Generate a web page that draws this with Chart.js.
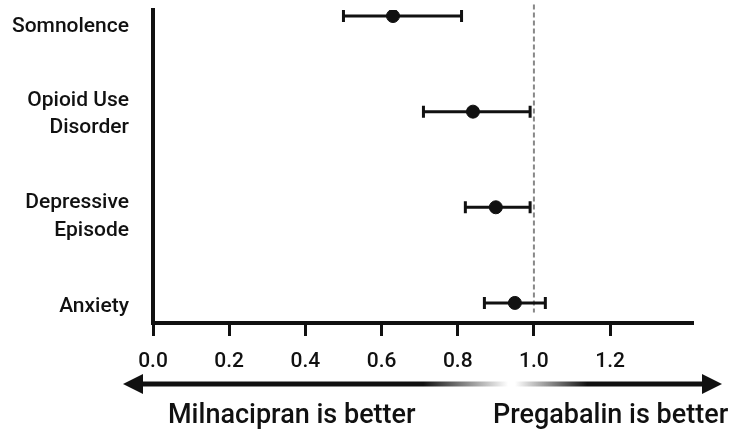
<!DOCTYPE html>
<html>
<head>
<meta charset="utf-8">
<script src="https://cdn.jsdelivr.net/npm/chart.js@4"></script>
<style>
  html, body { margin: 0; padding: 0; background: #fff; }
  #wrap { width: 750px; height: 443px; }
</style>
</head>
<body>
<div id="wrap"><canvas id="myChart" width="750" height="443"></canvas></div>
<script>
// outcomes, top to bottom
const categories = ['Somnolence', ['Opioid Use', 'Disorder'], ['Depressive', 'Episode'], 'Anxiety'];
const estimates = [0.63, 0.84, 0.90, 0.95];
const lowerCI = [0.50, 0.71, 0.82, 0.87];
const upperCI = [0.81, 0.99, 0.99, 1.03];
const xTicks = [0.0, 0.2, 0.4, 0.6, 0.8, 1.0, 1.2];
const refValue = 1.0;
const leftNote = 'Milnacipran is better';
const rightNote = 'Pregabalin is better';

const ink = '#111';
// the original nudges its row labels a little below the dots
const labelNudge = [0.11, 0.03, 0.1, 0.04];

/* whiskers + the dashed no-difference line, drawn under the dots */
const errorBars = {
    id: 'errorBars',
    beforeDatasetsDraw(chart) {
        const ctx = chart.ctx;
        const xs = chart.scales.x, ys = chart.scales.y;
        ctx.save();
        // reference line
        const rx = xs.getPixelForValue(refValue);
        ctx.strokeStyle = '#888';
        ctx.lineWidth = 2;
        ctx.setLineDash([5, 3]);
        ctx.beginPath();
        ctx.moveTo(rx, ys.getPixelForValue(-0.12));
        ctx.lineTo(rx, ys.getPixelForValue(3.1));
        ctx.stroke();
        ctx.setLineDash([]);
        // CI whiskers
        ctx.strokeStyle = ink;
        ctx.lineWidth = 3;
        estimates.forEach((v, i) => {
            const y = ys.getPixelForValue(i);
            const x1 = xs.getPixelForValue(lowerCI[i]);
            const x2 = xs.getPixelForValue(upperCI[i]);
            ctx.beginPath();
            ctx.moveTo(x1, y);
            ctx.lineTo(x2, y);
            ctx.moveTo(x1, y - 6);
            ctx.lineTo(x1, y + 6);
            ctx.moveTo(x2, y - 6);
            ctx.lineTo(x2, y + 6);
            ctx.stroke();
        });
        ctx.restore();
    }
};

/* the "which drug is better" arrows under the axis */
const directionArrows = {
    id: 'directionArrows',
    afterDraw(chart) {
        const ctx = chart.ctx;
        const y = 384;
        ctx.save();
        // left arrow, fading out toward the middle
        let g = ctx.createLinearGradient(123, 0, 508, 0);
        g.addColorStop(0, ink);
        g.addColorStop(0.78, ink);
        g.addColorStop(1, 'rgba(17,17,17,0)');
        ctx.fillStyle = g;
        ctx.fillRect(140, y - 2.5, 368, 5);
        ctx.fillStyle = ink;
        ctx.beginPath();
        ctx.moveTo(123, y);
        ctx.lineTo(143, y - 10);
        ctx.lineTo(143, y + 10);
        ctx.closePath();
        ctx.fill();
        // right arrow, fading in from the middle
        g = ctx.createLinearGradient(515, 0, 722, 0);
        g.addColorStop(0, 'rgba(17,17,17,0)');
        g.addColorStop(0.35, ink);
        g.addColorStop(1, ink);
        ctx.fillStyle = g;
        ctx.fillRect(515, y - 2.5, 190, 5);
        ctx.fillStyle = ink;
        ctx.beginPath();
        ctx.moveTo(722, y);
        ctx.lineTo(702, y - 10);
        ctx.lineTo(702, y + 10);
        ctx.closePath();
        ctx.fill();
        // captions
        ctx.font = '500 27px Roboto';
        ctx.textBaseline = 'alphabetic';
        ctx.textAlign = 'left';
        ctx.fillText(leftNote, 168, 423);
        ctx.fillText(rightNote, 493, 423);
        ctx.restore();
    }
};

const ctx = document.getElementById('myChart');
new Chart(ctx, {
    type: 'scatter',
    data: {
        datasets: [{
            label: 'Odds ratio',
            data: estimates.map((v, i) => ({ x: v, y: i })),
            backgroundColor: ink,
            borderColor: ink,
            pointRadius: 6.5,
            pointHoverRadius: 6.5
        }]
    },
    options: {
        responsive: false,
        animation: false,
        layout: { padding: { top: 10, right: 58, left: 0, bottom: 0 } },
        plugins: { legend: { display: false }, tooltip: { enabled: false } },
        scales: {
            x: {
                type: 'linear',
                min: 0,
                max: 1.415,
                afterBuildTicks: (s) => { s.ticks = xTicks.map(v => ({ value: v })); },
                afterFit: (s) => { s.height = 120; s.paddingLeft = 0; s.paddingRight = 0; },
                grid: { display: true, drawOnChartArea: false, drawTicks: true, tickLength: 13, lineWidth: 3, color: ink },
                border: { display: true, width: 4, color: ink },
                ticks: {
                    color: ink,
                    padding: 13,
                    font: { family: 'Roboto', size: 21, weight: '500' },
                    callback: (v) => Number(v).toFixed(1)
                }
            },
            y: {
                type: 'linear',
                reverse: true,
                min: -0.063,
                max: 3.21,
                afterBuildTicks: (s) => { s.ticks = categories.map((c, i) => ({ value: i + labelNudge[i] })); },
                afterFit: (s) => { s.width = 153; s.paddingTop = 0; s.paddingBottom = 0; },
                grid: { display: false, drawTicks: false },
                border: { display: true, width: 4, color: ink },
                ticks: {
                    color: ink,
                    padding: 24,
                    font: { family: 'Roboto', size: 21, weight: '500', lineHeight: 1.3 },
                    callback: (v) => categories[Math.round(v)]
                }
            }
        }
    },
    plugins: [errorBars, directionArrows]
});
</script>
</body>
</html>
